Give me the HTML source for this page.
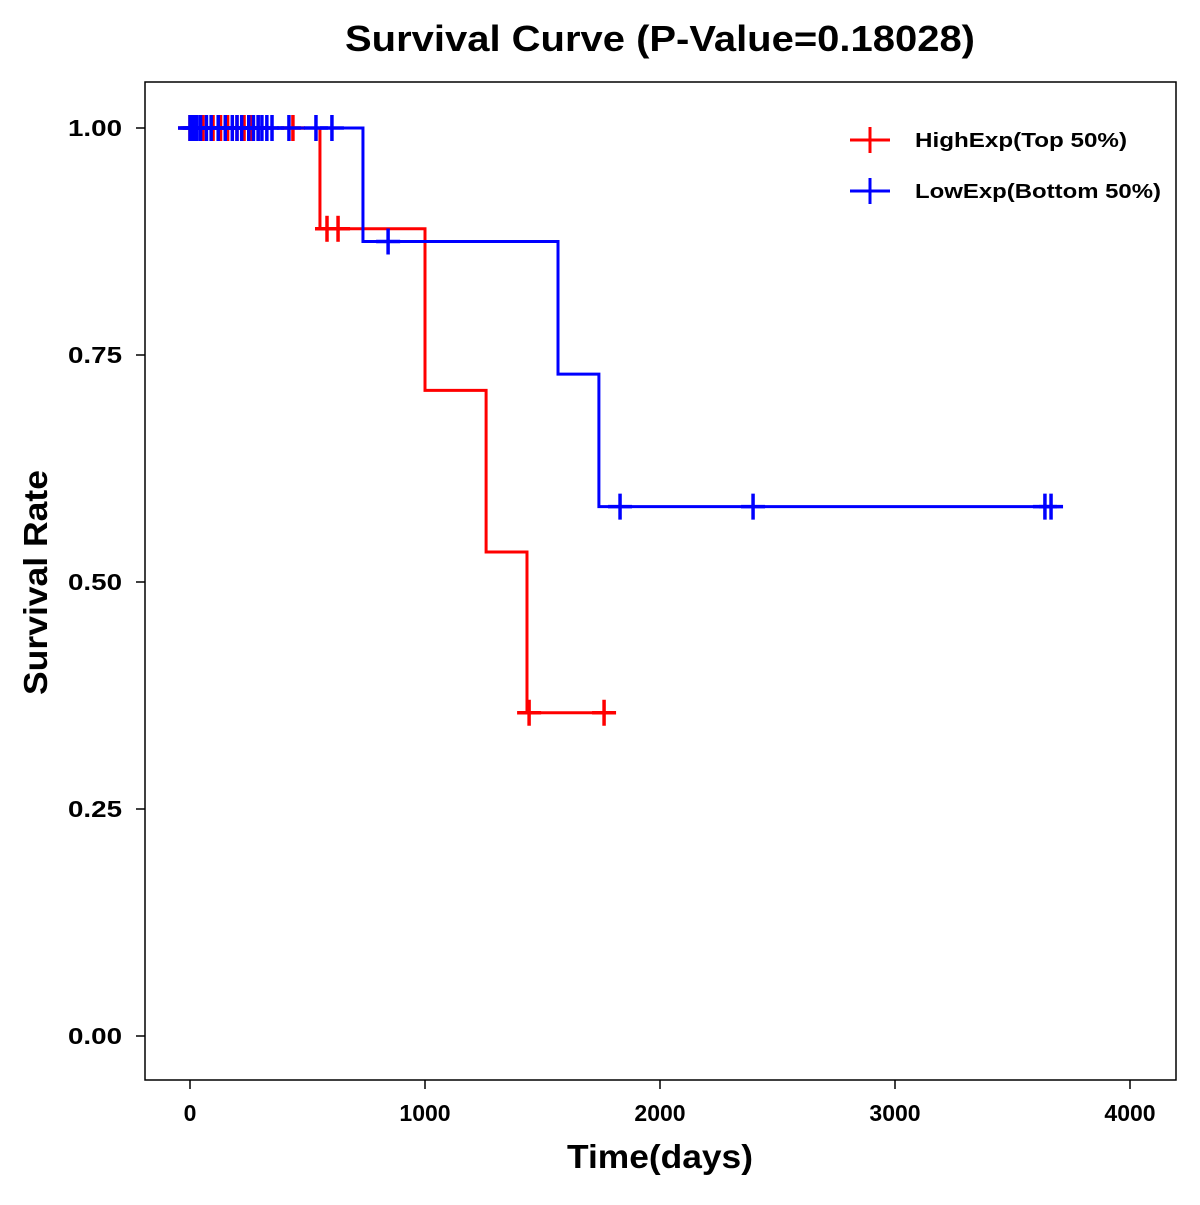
<!DOCTYPE html>
<html><head><meta charset="utf-8"><style>
body{margin:0;background:#fff}
svg text{font-family:"Liberation Sans",Arial,sans-serif;font-weight:bold}
</style></head><body>
<svg id="c" width="1200" height="1200" xmlns="http://www.w3.org/2000/svg">
<rect width="1200" height="1200" fill="#fff"/>
<text x="345" y="51" font-size="36" textLength="630" lengthAdjust="spacingAndGlyphs">Survival Curve (P-Value=0.18028)</text>
<rect x="145" y="82" width="1031" height="998" fill="none" stroke="#000" stroke-width="1.5"/>
<text x="567" y="1168" font-size="33" textLength="186" lengthAdjust="spacingAndGlyphs">Time(days)</text>
<text transform="translate(47,695) rotate(-90)" font-size="33" textLength="225" lengthAdjust="spacingAndGlyphs">Survival Rate</text>
<g id="axes"></g>
<g id="series"></g>
<g>
<line x1="850" y1="140" x2="890" y2="140" stroke="#f00" stroke-width="3"/><line x1="870" y1="127" x2="870" y2="153" stroke="#f00" stroke-width="3"/>
<text x="915" y="147" font-size="20" textLength="212" lengthAdjust="spacingAndGlyphs">HighExp(Top 50%)</text>
<line x1="850" y1="191" x2="890" y2="191" stroke="#00f" stroke-width="3"/><line x1="870" y1="178" x2="870" y2="204" stroke="#00f" stroke-width="3"/>
<text x="915" y="198" font-size="20" textLength="246" lengthAdjust="spacingAndGlyphs">LowExp(Bottom 50%)</text>
</g>
</svg>
<script>
const xTicks=[0,1000,2000,3000,4000];
const yTicks=[0,0.25,0.5,0.75,1.0];
const yTickLabels=["0.00","0.25","0.50","0.75","1.00"];
const highTimes=[0,553,1000,1260,1434,1766];
const highSurv=[1,0.889,0.711,0.533,0.356,0.356];
const highCensorT=[0,20,55,98,130,160,200,230,260,290,438,583,630,1443,1762];
const highCensorS=[1,1,1,1,1,1,1,1,1,1,1,0.889,0.889,0.356,0.356];
const lowTimes=[0,736,1566,1740,3700];
const lowSurv=[1,0.875,0.729,0.583,0.583];
const lowCensorT=[0,10,20,30,45,70,90,120,150,180,200,220,250,270,290,306,327,349,421,536,604,843,1830,2396,3638,3664];
const lowCensorS=[1,1,1,1,1,1,1,1,1,1,1,1,1,1,1,1,1,1,1,1,1,0.875,0.583,0.583,0.583,0.583];
const X=t=>190+t*0.235, Y=s=>1036-s*908;
const NS="http://www.w3.org/2000/svg";
function mk(tag,attrs,parent){const e=document.createElementNS(NS,tag);for(const k in attrs)e.setAttribute(k,attrs[k]);parent.appendChild(e);return e;}
const ax=document.getElementById('axes');
xTicks.forEach(t=>{
 const l=mk('line',{x1:X(t),x2:X(t),y1:1080,y2:1089,stroke:'#000','stroke-width':1.5},ax);
 
 
 const tx=mk('text',{x:X(t),y:1121,'font-size':23,'text-anchor':'middle'},ax);tx.textContent=t;
 
 
});
yTicks.forEach((s,i)=>{
 const l=mk('line',{x1:136,x2:145,y1:Y(s),y2:Y(s),stroke:'#000','stroke-width':1.5},ax);
 
 
 const tx=mk('text',{x:68,y:Y(s)+8,'font-size':23,textLength:54,lengthAdjust:'spacingAndGlyphs'},ax);tx.textContent=yTickLabels[i];
 
 
});
const sg=document.getElementById('series');
function draw(times,surv,ct,cs,color,name){
 let d=`M${X(times[0])-12},${Y(surv[0])}`;
 for(let i=1;i<times.length;i++){d+=` H${X(times[i])} V${Y(surv[i])}`;}
 const p=mk('path',{d:d,fill:'none',stroke:color,'stroke-width':3},sg);
 
 
 ct.forEach((t,i)=>{
  const g=mk('g',{stroke:color,'stroke-width':3.5},sg);
  
  
  mk('line',{x1:X(t)-12,x2:X(t)+12,y1:Y(cs[i]),y2:Y(cs[i])},g);
  mk('line',{x1:X(t),x2:X(t),y1:Y(cs[i])-13,y2:Y(cs[i])+13},g);
 });
}
draw(highTimes,highSurv,highCensorT,highCensorS,'#f00','high-exp');
draw(lowTimes,lowSurv,lowCensorT,lowCensorS,'#00f','low-exp');
</script>
</body></html>
